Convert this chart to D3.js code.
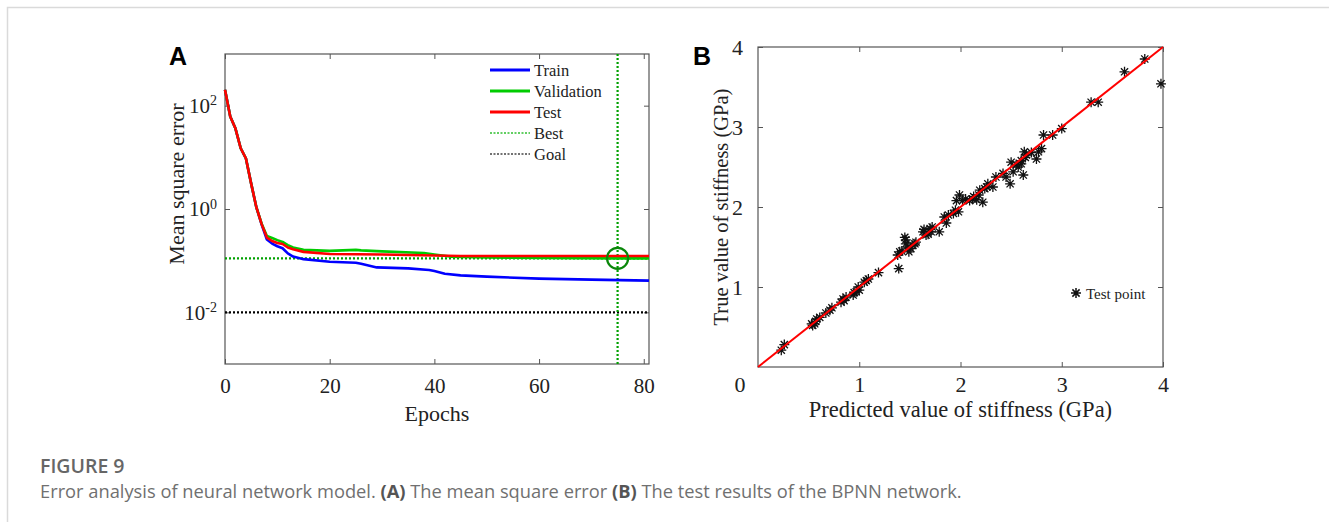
<!DOCTYPE html>
<html lang="en">
<head>
<meta charset="UTF-8">
<title>Figure 9</title>
<script src="https://d3js.org/d3.v7.min.js"></script>
<style>
    body { margin: 0; background: #fff; }
    .serif { font-family: "Liberation Serif", "Times New Roman", serif; fill: #222; }
    .panel-tag { font-family: "Liberation Sans", Arial, sans-serif; font-weight: bold; font-size: 25px; fill: #000; }
    .axis text { font-family: "Liberation Serif", "Times New Roman", serif; fill: #222; }
    .axis line { stroke: #555; }
</style>
</head>
<body>
<script>
    // ---------- panel A: training performance ----------
    var trainEpochs = [0, 1, 2, 3, 4, 5, 6, 7, 8, 9, 10, 11, 12, 13, 15, 20, 25, 26, 29, 35, 39, 40, 42, 45, 50, 60, 70, 81];
    var trainMse    = [204, 62, 36, 15, 9.5, 3.1, 1.07, 0.5, 0.257, 0.214, 0.19, 0.174, 0.138, 0.12, 0.107, 0.095, 0.091, 0.087, 0.074, 0.071, 0.066, 0.063, 0.056, 0.052, 0.049, 0.045, 0.043, 0.041];
    var valEpochs = [0, 1, 2, 3, 4, 5, 6, 7, 8, 9, 10, 11, 12, 13, 15, 20, 25, 26, 30, 38, 40, 43, 50, 75, 81];
    var valMse    = [204, 62, 36, 15, 9.5, 3.1, 1.07, 0.52, 0.30, 0.275, 0.25, 0.23, 0.20, 0.18, 0.162, 0.155, 0.162, 0.158, 0.151, 0.141, 0.132, 0.12, 0.115, 0.111, 0.111];
    var testEpochs = [0, 1, 2, 3, 4, 5, 6, 7, 8, 9, 10, 11, 12, 13, 15, 20, 30, 40, 45, 81];
    var testMse    = [204, 62, 36, 15, 9.5, 3.1, 1.07, 0.51, 0.28, 0.24, 0.22, 0.21, 0.18, 0.166, 0.148, 0.135, 0.132, 0.126, 0.123, 0.123];
    var bestEpoch = 75;
    var bestMse = 0.111;
    var goalMse = 0.01;
    var epochTicks = [0, 20, 40, 60, 80];
    var mseTickPowers = [-2, 0, 2];
    var legendNames = ["Train", "Validation", "Test", "Best", "Goal"];

    // ---------- panel B: regression test ----------
    var predicted = [0.23, 0.26, 0.53, 0.54, 0.56, 0.57, 0.58, 0.61, 0.67, 0.71, 0.73, 0.82, 0.84, 0.85, 0.87, 0.94, 0.95, 0.97, 0.99, 1.00, 1.05, 1.07, 1.09, 1.19,
                     1.38, 1.39, 1.40, 1.42, 1.45, 1.46, 1.46, 1.48, 1.49, 1.51, 1.53, 1.55, 1.56, 1.63, 1.64, 1.66, 1.68, 1.70, 1.71, 1.72, 1.79, 1.84, 1.86, 1.88,
                     1.93, 1.95, 1.96, 1.98, 1.99, 2.02, 2.05, 2.09, 2.12, 2.13, 2.16, 2.18, 2.19, 2.22, 2.24, 2.26, 2.27, 2.32, 2.35, 2.42, 2.45, 2.49, 2.50, 2.52,
                     2.55, 2.57, 2.60, 2.60, 2.62, 2.63, 2.64, 2.65, 2.70, 2.75, 2.77, 2.80, 2.82, 2.91, 3.00, 3.29, 3.36, 3.62, 3.82, 3.98];
    var measured  = [0.21, 0.28, 0.54, 0.52, 0.54, 0.57, 0.60, 0.62, 0.675, 0.71, 0.74, 0.81, 0.85, 0.83, 0.875, 0.90, 0.93, 0.94, 1.00, 0.96, 1.06, 1.08, 1.10, 1.18,
                     1.40, 1.23, 1.44, 1.45, 1.62, 1.59, 1.54, 1.50, 1.44, 1.48, 1.52, 1.54, 1.56, 1.69, 1.72, 1.65, 1.66, 1.73, 1.69, 1.75, 1.69, 1.875, 1.80, 1.90,
                     1.92, 1.96, 2.08, 1.94, 2.15, 2.08, 2.10, 2.08, 2.10, 2.13, 2.09, 2.15, 2.21, 2.06, 2.23, 2.25, 2.29, 2.25, 2.375, 2.42, 2.375, 2.29, 2.56, 2.44,
                     2.53, 2.50, 2.54, 2.58, 2.40, 2.69, 2.62, 2.65, 2.68, 2.60, 2.69, 2.73, 2.90, 2.90, 2.98, 3.31, 3.31, 3.69, 3.85, 3.54];
    var stiffTicks = [1, 2, 3, 4];

    var captionTitle = "FIGURE 9";
    var captionParts = [
        ["Error analysis of neural network model. ", false],
        ["(A)", true],
        [" The mean square error ", false],
        ["(B)", true],
        [" The test results of the BPNN network.", false]
    ];

    var width = 1329, height = 522;
    var svg = d3.select("body").append("svg")
        .attr("width", width)
        .attr("height", height);

    // page frame (top + left rule)
    svg.append("path")
        .attr("d", "M7.5," + height + "V7.5H" + width)
        .attr("fill", "none")
        .attr("stroke", "#dadada")
        .attr("stroke-width", 1.5);

    // ================= Panel A =================
    var ax = { left: 225, right: 649, top: 54, bottom: 364 };
    var xA = d3.scaleLinear().domain([0, 81]).range([ax.left, ax.right]);
    var yA = d3.scaleLog().domain([1e-3, 1e3]).range([ax.bottom, ax.top]);

    var gA = svg.append("g");

    gA.append("rect")
        .attr("x", ax.left).attr("y", ax.top)
        .attr("width", ax.right - ax.left).attr("height", ax.bottom - ax.top)
        .attr("fill", "none").attr("stroke", "#555").attr("stroke-width", 1.2);

    var xAxisA = d3.axisBottom(xA).tickValues(epochTicks).tickSizeInner(-5).tickSizeOuter(0).tickPadding(14);
    gA.append("g").attr("class", "axis")
        .attr("transform", "translate(0," + ax.bottom + ")")
        .call(xAxisA)
        .call(function (g) { g.select(".domain").remove(); })
        .selectAll("text").attr("font-size", "21px");
    gA.append("g").attr("class", "axis")
        .attr("transform", "translate(0," + ax.top + ")")
        .call(d3.axisTop(xA).tickValues(epochTicks).tickSizeInner(-5).tickSizeOuter(0).tickFormat(""))
        .call(function (g) { g.select(".domain").remove(); });

    var yAxisA = d3.axisLeft(yA)
        .tickValues(mseTickPowers.map(function (p) { return Math.pow(10, p); }))
        .tickSizeInner(-5).tickSizeOuter(0).tickPadding(8);
    var yAxisGA = gA.append("g").attr("class", "axis")
        .attr("transform", "translate(" + ax.left + ",0)")
        .call(yAxisA)
        .call(function (g) { g.select(".domain").remove(); });
    yAxisGA.selectAll(".tick text")
        .attr("font-size", "21px")
        .each(function (d) {
            var t = d3.select(this);
            t.text("10");
            t.append("tspan")
                .attr("dy", "-0.55em")
                .attr("font-size", "14px")
                .text(Math.round(Math.log10(d)));
        });
    gA.append("g").attr("class", "axis")
        .attr("transform", "translate(" + ax.right + ",0)")
        .call(d3.axisRight(yA).tickValues(mseTickPowers.map(function (p) { return Math.pow(10, p); }))
            .tickSizeInner(-5).tickSizeOuter(0).tickFormat(""))
        .call(function (g) { g.select(".domain").remove(); });

    // goal and best reference lines
    gA.append("line")
        .attr("x1", ax.left).attr("x2", ax.right)
        .attr("y1", yA(goalMse)).attr("y2", yA(goalMse))
        .attr("stroke", "#000").attr("stroke-width", 2.2).attr("stroke-dasharray", "2,2");
    gA.append("line")
        .attr("x1", ax.left).attr("x2", ax.right)
        .attr("y1", yA(bestMse)).attr("y2", yA(bestMse))
        .attr("stroke", "#00a000").attr("stroke-width", 2.2).attr("stroke-dasharray", "2,2");
    gA.append("line")
        .attr("x1", xA(bestEpoch)).attr("x2", xA(bestEpoch))
        .attr("y1", ax.top).attr("y2", ax.bottom)
        .attr("stroke", "#00a000").attr("stroke-width", 2.2).attr("stroke-dasharray", "2,2");

    var lineA = d3.line()
        .x(function (d) { return xA(d[0]); })
        .y(function (d) { return yA(d[1]); });

    var seriesA = [
        { epochs: trainEpochs, mse: trainMse, color: "#0000ff" },
        { epochs: valEpochs, mse: valMse, color: "#00cc00" },
        { epochs: testEpochs, mse: testMse, color: "#ff0000" }
    ];
    seriesA.forEach(function (s) {
        gA.append("path")
            .datum(d3.zip(s.epochs, s.mse))
            .attr("d", lineA)
            .attr("fill", "none")
            .attr("stroke", s.color)
            .attr("stroke-width", 2.6)
            .attr("stroke-linejoin", "round");
    });

    gA.append("circle")
        .attr("cx", xA(bestEpoch)).attr("cy", yA(bestMse))
        .attr("r", 10.5)
        .attr("fill", "none").attr("stroke", "#0a870a").attr("stroke-width", 2.2);

    // legend A
    var legA = gA.append("g").attr("transform", "translate(490,70)");
    var legStyles = [
        { color: "#0000ff", w: 3, dash: null },
        { color: "#00cc00", w: 3, dash: null },
        { color: "#ff0000", w: 3, dash: null },
        { color: "#2fbf2f", w: 1.3, dash: "2,1.5" },
        { color: "#444", w: 1.3, dash: "2,1.5" }
    ];
    legendNames.forEach(function (name, i) {
        var row = legA.append("g").attr("transform", "translate(0," + (i * 21) + ")");
        row.append("line")
            .attr("x1", 0).attr("x2", 40)
            .attr("stroke", legStyles[i].color)
            .attr("stroke-width", legStyles[i].w)
            .attr("stroke-dasharray", legStyles[i].dash);
        row.append("text")
            .attr("class", "serif")
            .attr("x", 44).attr("y", 5.5)
            .attr("font-size", "16.5px")
            .text(name);
    });

    gA.append("text").attr("class", "serif")
        .attr("x", (ax.left + ax.right) / 2).attr("y", 421)
        .attr("text-anchor", "middle").attr("font-size", "22px")
        .text("Epochs");
    gA.append("text").attr("class", "serif")
        .attr("transform", "translate(184,184) rotate(-90)")
        .attr("text-anchor", "middle").attr("font-size", "22px")
        .text("Mean square error");
    gA.append("text").attr("class", "panel-tag")
        .attr("x", 169).attr("y", 65)
        .text("A");

    // ================= Panel B =================
    var bx = { left: 758, right: 1163, top: 47, bottom: 367 };
    var xB = d3.scaleLinear().domain([0, 4]).range([bx.left, bx.right]);
    var yB = d3.scaleLinear().domain([0, 4]).range([bx.bottom, bx.top]);
    var gB = svg.append("g");
    var intFmt = d3.format("d");

    gB.append("rect")
        .attr("x", bx.left).attr("y", bx.top)
        .attr("width", bx.right - bx.left).attr("height", bx.bottom - bx.top)
        .attr("fill", "none").attr("stroke", "#555").attr("stroke-width", 1.2);

    gB.append("g").attr("class", "axis")
        .attr("transform", "translate(0," + bx.bottom + ")")
        .call(d3.axisBottom(xB).tickValues(stiffTicks).tickFormat(intFmt).tickSizeInner(-5).tickSizeOuter(0).tickPadding(9))
        .call(function (g) { g.select(".domain").remove(); })
        .selectAll("text").attr("font-size", "22px");
    gB.append("g").attr("class", "axis")
        .attr("transform", "translate(0," + bx.top + ")")
        .call(d3.axisTop(xB).tickValues(stiffTicks).tickSizeInner(-5).tickSizeOuter(0).tickFormat(""))
        .call(function (g) { g.select(".domain").remove(); });
    gB.append("g").attr("class", "axis")
        .attr("transform", "translate(" + bx.left + ",0)")
        .call(d3.axisLeft(yB).tickValues(stiffTicks).tickFormat(intFmt).tickSizeInner(-5).tickSizeOuter(0).tickPadding(15))
        .call(function (g) { g.select(".domain").remove(); })
        .selectAll("text").attr("font-size", "22px");
    gB.append("g").attr("class", "axis")
        .attr("transform", "translate(" + bx.right + ",0)")
        .call(d3.axisRight(yB).tickValues(stiffTicks).tickSizeInner(-5).tickSizeOuter(0).tickFormat(""))
        .call(function (g) { g.select(".domain").remove(); });

    // shared origin label
    gB.append("text").attr("class", "serif")
        .attr("x", xB(0) - 18).attr("y", 392)
        .attr("text-anchor", "middle").attr("font-size", "22px")
        .text("0");

    // asterisk marker (+ and x)
    var asterisk = {
        draw: function (context, size) {
            var r = Math.sqrt(size) / 2, d = r * 0.72;
            context.moveTo(-r, 0); context.lineTo(r, 0);
            context.moveTo(0, -r); context.lineTo(0, r);
            context.moveTo(-d, -d); context.lineTo(d, d);
            context.moveTo(-d, d); context.lineTo(d, -d);
        }
    };
    var markerPath = d3.symbol().type(asterisk).size(100);

    gB.append("g")
        .selectAll("path")
        .data(d3.zip(predicted, measured))
        .enter()
        .append("path")
        .attr("transform", function (d) { return "translate(" + xB(d[0]) + "," + yB(d[1]) + ")"; })
        .attr("d", markerPath)
        .attr("fill", "none")
        .attr("stroke", "#111")
        .attr("stroke-width", 1.3);

    // ideal fit y = x
    gB.append("line")
        .attr("x1", xB(0)).attr("y1", yB(0))
        .attr("x2", xB(4)).attr("y2", yB(4))
        .attr("stroke", "#ff0000").attr("stroke-width", 2);

    // legend B
    gB.append("path")
        .attr("transform", "translate(1076,293)")
        .attr("d", markerPath)
        .attr("fill", "none").attr("stroke", "#111").attr("stroke-width", 1.5);
    gB.append("text").attr("class", "serif")
        .attr("x", 1086).attr("y", 298.5)
        .attr("font-size", "15px")
        .text("Test point");

    gB.append("text").attr("class", "serif")
        .attr("x", (bx.left + bx.right) / 2).attr("y", 417)
        .attr("text-anchor", "middle").attr("font-size", "22.5px")
        .text("Predicted value of stiffness (GPa)");
    gB.append("text").attr("class", "serif")
        .attr("transform", "translate(728," + ((bx.top + bx.bottom) / 2) + ") rotate(-90)")
        .attr("text-anchor", "middle").attr("font-size", "20.5px")
        .text("True value of stiffness (GPa)");
    gB.append("text").attr("class", "panel-tag")
        .attr("x", 693).attr("y", 65)
        .text("B");

    // ================= Caption =================
    svg.append("text")
        .attr("x", 40).attr("y", 473)
        .attr("font-family", "'Open Sans', 'Noto Sans', sans-serif")
        .attr("font-weight", 600)
        .attr("font-size", "19.5px")
        .attr("fill", "#666")
        .text(captionTitle);
    var cap = svg.append("text")
        .attr("x", 40).attr("y", 498)
        .attr("font-family", "'Open Sans', 'Noto Sans', sans-serif")
        .attr("font-size", "18.3px")
        .attr("fill", "#707070");
    captionParts.forEach(function (p) {
        cap.append("tspan")
            .attr("font-weight", p[1] ? 700 : 400)
            .attr("fill", p[1] ? "#555" : null)
            .text(p[0]);
    });
</script>
</body>
</html>
